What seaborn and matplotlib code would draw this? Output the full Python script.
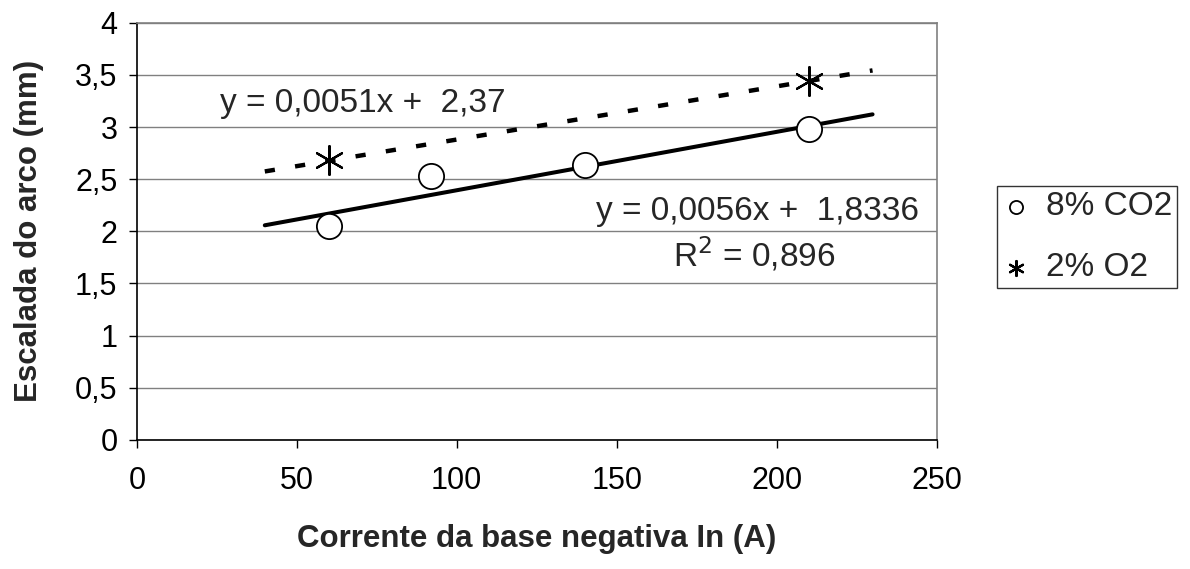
import numpy as np
import pandas as pd
import matplotlib
matplotlib.use("Agg")
import matplotlib.pyplot as plt
import seaborn as sns

# measured points
co2_x = [60, 92, 140, 210]
co2_y = [2.05, 2.53, 2.64, 2.98]
o2_x = [60, 210]
o2_y = [2.68, 3.44]

# trendlines as given on the chart (slope, intercept) and their x range
trend_range = [40, 230]
co2_fit = [0.0056, 1.8336]
o2_fit = [0.0051, 2.37]

x_ticks = [0, 50, 100, 150, 200, 250]
y_ticks = [0, 0.5, 1, 1.5, 2, 2.5, 3, 3.5, 4]

sns.set_style("white")
plt.rcParams['font.family'] = ['Liberation Sans', 'DejaVu Sans']

df_pts = pd.concat([
    pd.DataFrame({'x': co2_x, 'y': co2_y, 'serie': '8% CO2'}),
    pd.DataFrame({'x': o2_x, 'y': o2_y, 'serie': '2% O2'}),
])

xr = np.array(trend_range, dtype=float)
df_co2_line = pd.DataFrame({'x': xr, 'y': co2_fit[0] * xr + co2_fit[1]})
df_o2_line = pd.DataFrame({'x': xr, 'y': o2_fit[0] * xr + o2_fit[1]})

fig = plt.figure(figsize=(11.9, 5.69), dpi=100)
ax = fig.add_axes([0.115, 0.227, 0.672, 0.733])

# trendlines
sns.lineplot(data=df_co2_line, x='x', y='y', color='black', lw=2.9, ax=ax, zorder=3)
sns.lineplot(data=df_o2_line, x='x', y='y', color='black', lw=3.2, ax=ax, zorder=3)
ax.lines[-1].set_dashes((2.3, 4.6))

# points
circ = df_pts[df_pts['serie'] == '8% CO2']
star = df_pts[df_pts['serie'] == '2% O2']
sns.scatterplot(data=circ, x='x', y='y', marker='o', s=330, facecolor='white',
                edgecolor='black', linewidth=1.3, ax=ax, zorder=4, label='8% CO2')
sns.scatterplot(data=star, x='x', y='y', marker=(6, 2, 0), s=430, color='black',
                linewidth=1.6, ax=ax, zorder=4, label='2% O2')

ax.set_xlim(0, 250)
ax.set_ylim(0, 4)
ax.set_xticks(x_ticks)
ax.set_yticks(y_ticks)
ax.set_xticklabels([str(v) for v in x_ticks])
ax.set_yticklabels([f"{v:g}".replace('.', ',') for v in y_ticks])
ax.yaxis.grid(True, color='#808080', lw=1)
ax.set_axisbelow(True)
ax.tick_params(axis='both', which='major', labelsize=22, direction='out',
               length=6, width=1, colors='black', left=True, bottom=True)
ax.tick_params(axis='x', pad=13)
ax.tick_params(axis='y', pad=8)

for side in ['left', 'bottom']:
    ax.spines[side].set_color('black')
    ax.spines[side].set_linewidth(1.2)
for side in ['right', 'top']:
    ax.spines[side].set_color('#808080')
    ax.spines[side].set_linewidth(1.2)

ax.set_xlabel('Corrente da base negativa In (A)', fontsize=22.5, fontweight='bold', labelpad=20)
ax.set_ylabel('Escalada do arco (mm)', fontsize=22.5, fontweight='bold', labelpad=22)

ax.text(26, 3.23, 'y = 0,0051x +  2,37', fontsize=24, va='center')
ax.text(244.5, 2.19, 'y = 0,0056x +  1,8336', fontsize=24, va='center', ha='right')
ax.text(193, 1.78, r'R$^2$ = 0,896', fontsize=24, va='center', ha='center')

h, l = ax.get_legend_handles_labels()
ax.legend_.remove()
leg = fig.legend(h, l, loc='center left', bbox_to_anchor=(0.838, 0.583), fontsize=24,
                 frameon=True, fancybox=False, edgecolor='black', handletextpad=0.5,
                 handlelength=0.8, markerscale=0.52, borderpad=0.15, labelspacing=0.9,
                 borderaxespad=0)
leg.get_frame().set_linewidth(1)

fig.savefig('out.png', dpi=100)
